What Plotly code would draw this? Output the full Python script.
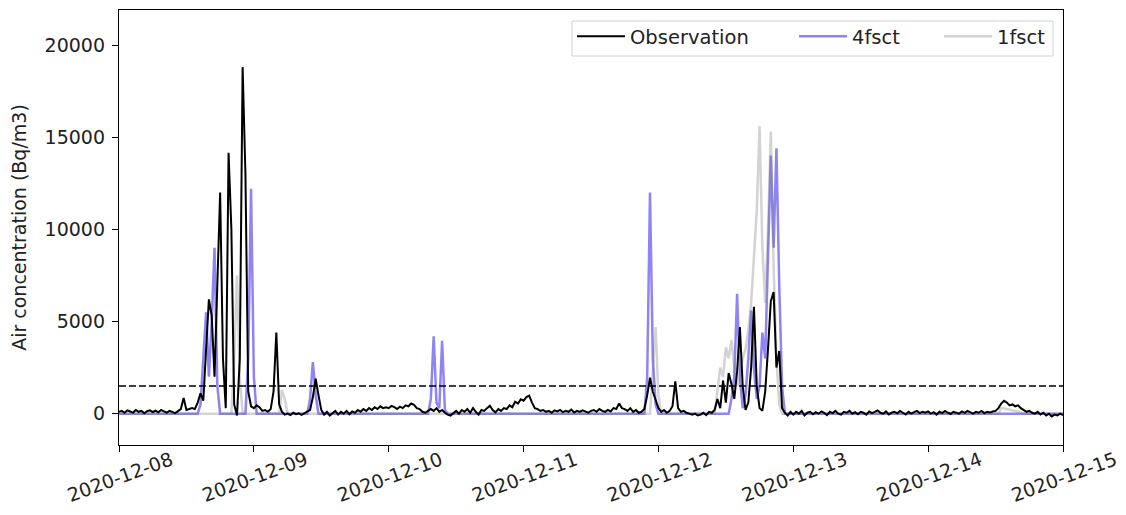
import pandas as pd
import plotly.graph_objects as go

# ---------------- data ----------------
start = "2020-12-08 00:00"
step_minutes = 30
# Observation, one value every 30 minutes from 2020-12-08 00:00 to 2020-12-15 00:00
obs_day08 = [100, 150, 50, 180, 120, 60, 200, 100, 150, 20, 130, 180, 90, 160, 70, 200, 120, 60, 150, 100, 30, 140, 250, 850,
             200, 250, 300, 250, 600, 1100, 700, 3500, 6200, 5300, 2000, 7000, 12000, 3000, 300, 14150, 10000, 500, -100, 3000, 18800, 13000, 1200, 400]
obs_day09 = [300, 450, 350, 150, 200, 100, 250, 1200, 4400, 500, 100, -50, 0, -80, 50, -30, 20, -60, 40, 100, 200, 900, 1900, 1000,
             200, -50, 100, -100, 50, 150, -50, 100, 0, 150, -30, 120, 50, 200, 100, 250, 150, 300, 200, 350, 250, 400, 300, 350]
obs_day10 = [300, 420, 350, 250, 380, 300, 450, 400, 550, 480, 300, 250, 100, 50, 150, 250, 150, 300, 100, 200, 50, -50, -100, 50,
             150, 0, 200, 100, 250, 50, 300, 100, -50, 200, 150, 300, 430, 200, 70, 250, 150, 300, 250, 450, 350, 650, 550, 780]
obs_day11 = [700, 900, 980, 600, 300, 250, 150, 200, 100, 150, 50, 180, 120, 200, 80, 150, 100, 220, 60, 150, 100, 180, 120, 50,
             150, 200, 100, 250, 150, 100, 200, 120, 300, 250, 550, 300, 250, 150, 300, 100, 200, 50, 100, 250, 1000, 1950, 1200, 800]
obs_day12 = [300, 100, 200, 50, 150, 400, 1750, 300, 100, 150, 50, 0, -50, 0, -100, -50, 50, -80, 100, 50, 200, 800, 300, 1800,
             600, 2200, 1600, 800, 2300, 4700, 1500, 200, 600, 2500, 5800, 1500, 300, 150, 1200, 3500, 6100, 6600, 2500, 3400, 300, 50, -100, 100]
obs_day13 = [-50, 100, 0, 150, -100, 50, 100, -30, 80, 0, 120, 50, -80, 100, 30, 150, 0, -50, 100, 50, 150, 0, 80, -30,
             100, 50, -60, 120, 30, 100, 180, 50, 0, 120, -40, 60, 100, 20, 150, 50, -50, 100, 0, 80, 150, 30, 100, 50]
obs_day14 = [120, 0, 80, -50, 100, 30, 150, 50, -20, 100, 60, 0, 120, 40, 150, 80, 0, 100, 50, 150, 30, 100, 60, 120,
             150, 300, 550, 700, 600, 450, 500, 400, 450, 300, 200, 100, 150, 50, 0, 100, -50, 50, -100, 0, -150, -50, -100, 0, -80]
obs_values = obs_day08 + obs_day09 + obs_day10 + obs_day11 + obs_day12 + obs_day13 + obs_day14

# 4fsct forecast: hours after 2020-12-08 00:00 and values (zero elsewhere)
fsct4_hours = [0, 14, 14.5, 15, 15.5, 16, 16.5, 17, 17.5, 18, 22.5, 23, 23.5, 24, 24.5,
               33.5, 34, 34.5, 35, 35.5,
               55, 55.5, 56, 56.5, 57, 57.5, 58, 58.5,
               93.5, 94, 94.5, 95, 95.5, 96,
               108.5, 109, 109.5, 110, 110.5, 111, 111.5, 112, 112.5, 113, 113.5, 114, 114.5, 115, 115.5, 116, 116.5, 117, 117.5, 118, 118.5,
               168]
fsct4_values = [0, 0, 500, 3000, 5500, 2000, 5000, 9000, 1500, 0, 0, 3000, 12200, 2000, 0,
                0, 800, 2800, 1000, 0,
                0, 800, 4200, 600, 300, 3950, 200, 0,
                0, 2000, 12000, 3000, 500, 0,
                0, 800, 2000, 6500, 2000, 300, 1000, 3000, 5600, 2500, 800, 1500, 4400, 3000, 9000, 14000, 9000, 14400, 7000, 1500, 0,
                0]

# 1fsct forecast: hours after 2020-12-08 00:00 and values (zero elsewhere)
fsct1_hours = [0, 20, 20.5, 21, 21.5, 22,
               28.5, 29, 29.5, 30,
               94.5, 95, 95.5, 96, 96.5,
               106, 106.5, 107, 107.5, 108, 108.5, 109, 109.5, 110, 110.5, 111, 111.5, 112, 112.5, 113, 113.5,
               114, 114.5, 115, 115.5, 116, 116.5, 117, 117.5, 118,
               156.5, 157, 158, 160, 161, 168]
fsct1_values = [0, 0, 3000, 7500, 2000, 0,
                0, 1300, 800, 0,
                0, 2500, 4700, 1000, 0,
                0, 1200, 2500, 2000, 3600, 3000, 4000, 2500, 1500, 2000, 3000, 3500, 4500, 6000, 8500, 11000,
                15600, 9000, 6000, 10000, 15300, 8000, 3000, 500, 0,
                0, 300, 250, 100, 0, 0]

threshold = 1500
date_ticks = ["2020-12-08", "2020-12-09", "2020-12-10", "2020-12-11",
              "2020-12-12", "2020-12-13", "2020-12-14", "2020-12-15"]
y_ticks = [0, 5000, 10000, 15000, 20000]

# ---------------- figure ----------------
t0 = pd.Timestamp(start)
obs_times = pd.date_range(start, periods=len(obs_values), freq=f"{step_minutes}min")
fsct4_times = [t0 + pd.Timedelta(hours=h) for h in fsct4_hours]
fsct1_times = [t0 + pd.Timedelta(hours=h) for h in fsct1_hours]

font = "DejaVu Sans"
OFF = 8  # page body margin around the figure
W, H = 1126 - OFF, 515 - OFF
ML, MT = 119 - OFF, 10 - OFF
MR = W - (1063 - OFF)
MB = H - (445 - OFF)
PW, PH = W - ML - MR, H - MT - MB


def px_x(p):  # page pixel -> paper fraction
    return (p - OFF - ML) / PW


def px_y(p):
    return (H - MB - (p - OFF)) / PH


fig = go.Figure()
fig.add_trace(go.Scatter(x=fsct4_times, y=fsct4_values, mode="lines", name="4fsct",
                         line=dict(color="rgba(30,10,235,0.5)", width=2.5), legend="legend2"))
fig.add_trace(go.Scatter(x=fsct1_times, y=fsct1_values, mode="lines", name="1fsct",
                         line=dict(color="rgba(128,128,128,0.35)", width=2.5), legend="legend3"))
fig.add_trace(go.Scatter(x=obs_times, y=obs_values, mode="lines", name="Observation",
                         line=dict(color="black", width=2), legend="legend"))
fig.add_hline(y=threshold, line=dict(color="black", width=1.6, dash="7px,3px"))

# legend frame
fig.add_shape(type="rect", xref="paper", yref="paper", layer="above",
              x0=px_x(572), x1=px_x(1053), y0=px_y(56), y1=px_y(21),
              fillcolor="rgba(255,255,255,0.8)", line=dict(color="#d0d0d0", width=1))

leg_common = dict(orientation="h", xanchor="left", yanchor="top", y=px_y(17),
                  bgcolor="rgba(0,0,0,0)", borderwidth=0, itemwidth=48,
                  font=dict(family=font, size=19.5, color="#222"))
fig.update_layout(
    width=W, height=H,
    margin=dict(l=ML, r=MR, t=MT, b=MB),
    paper_bgcolor="white", plot_bgcolor="white",
    font=dict(family=font, size=19, color="#222"),
    showlegend=True,
    legend=dict(x=px_x(572), **leg_common),
    legend2=dict(x=px_x(794), **leg_common),
    legend3=dict(x=px_x(939), **leg_common),
)
fig.update_xaxes(
    type="date", range=[date_ticks[0], date_ticks[-1]],
    tickvals=date_ticks, ticktext=date_ticks, tickangle=-20, ticklabelshift=52,
    ticklabelstandoff=-10,
    ticks="outside", ticklen=6, tickcolor="black", tickwidth=1.3,
    showline=True, linecolor="black", linewidth=1.3, mirror=True,
    showgrid=False, zeroline=False, automargin=False,
)
fig.update_yaxes(
    range=[-1700, 21900], tickvals=y_ticks, ticktext=[str(v) for v in y_ticks],
    ticks="outside", ticklen=6, tickcolor="black", tickwidth=1.3, ticklabelstandoff=3,
    showline=True, linecolor="black", linewidth=1.3, mirror=True,
    showgrid=False, zeroline=False, automargin=False,
    title=dict(text="Air concentration (Bq/m3)", standoff=15, font=dict(family=font, size=19)),
)

fig.write_html("out.html")
